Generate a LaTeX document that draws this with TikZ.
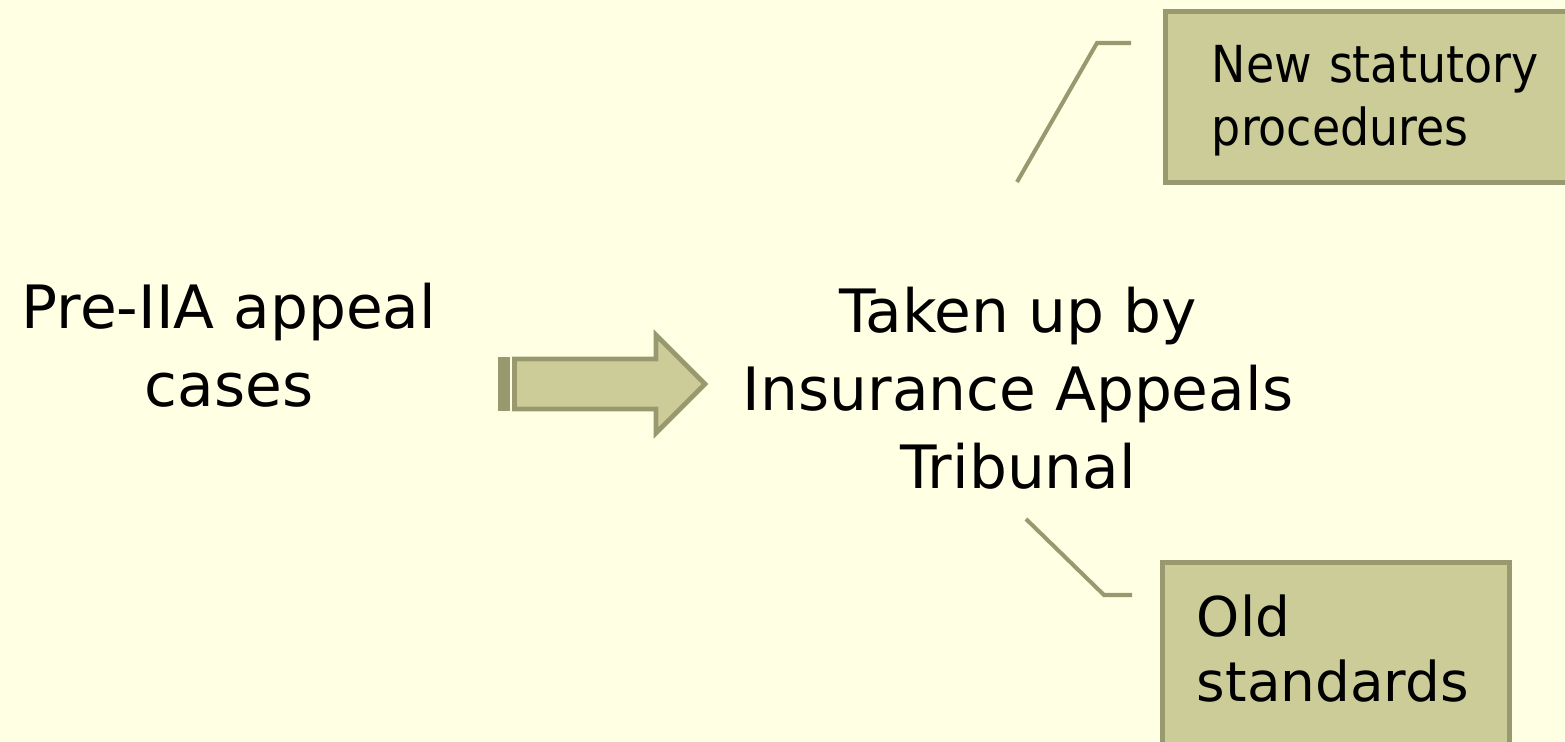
\documentclass[tikz,border=0pt]{standalone}
\usepackage{fontspec}
\setmainfont{DejaVu Sans}
\newfontfamily\narrowface{DejaVu Sans Condensed}
\usetikzlibrary{positioning}
\definecolor{creamBg}{HTML}{FFFFE3}
\definecolor{sageFill}{HTML}{CCCC99}
\definecolor{sageLine}{HTML}{999970}

\tikzset{
  bigtext/.style={align=center,font=\fontsize{17}{22.2}\selectfont},
  notebox/.style={draw=sageLine,line width=1.4pt,fill=sageFill,align=left,anchor=north west},
  leader/.style={draw=sageLine,line width=1.15pt},
}

\begin{document}
\begin{tikzpicture}[x=0.01cm,y=-0.01cm]
  \useasboundingbox (0,0) rectangle (1565,742);
  \clip (0,0) rectangle (1565,742);
  \fill[creamBg] (0,0) rectangle (1565,742);

  % captions
  \node[bigtext] (pre) at (229,345) {Pre-IIA appeal\\cases};
  \node[bigtext] (taken) at (1018,388) {Taken up by\\Insurance Appeals\\Tribunal};

  % striped block arrow
  \fill[sageLine] (498,357) rectangle (510,411);
  \draw[sageLine,line width=1.4pt,fill=sageFill]
    (514.5,359) -- (656,359) -- (656,335) -- (705,384) -- (656,433) -- (656,409) -- (514.5,409) -- cycle;

  % outcome boxes
  \node[notebox,font=\narrowface\fontsize{14.5}{17.9}\selectfont,inner xsep=0.465cm,inner ysep=0.335cm,
        text width=4.5cm,text depth=0.67cm] (newproc) at (1163,9) {New statutory\\procedures};
  \node[notebox,font=\fontsize{15.6}{18.5}\selectfont,inner xsep=0.345cm,inner ysep=0.325cm,
        text width=2.775cm,text depth=1.3cm] (oldstd) at (1160,560) {Old\\standards};

  % leader lines
  \coordinate (newfoot) at (1017,182);
  \coordinate (newbend) at (1097,43);
  \coordinate (newtip) at (1131,43);
  \coordinate (oldfoot) at (1026,519);
  \coordinate (oldbend) at (1104,595);
  \coordinate (oldtip) at (1132,595);
  \draw[leader] (newfoot) -- (newbend) -- (newtip);
  \draw[leader] (oldfoot) -- (oldbend) -- (oldtip);
\end{tikzpicture}
\end{document}
